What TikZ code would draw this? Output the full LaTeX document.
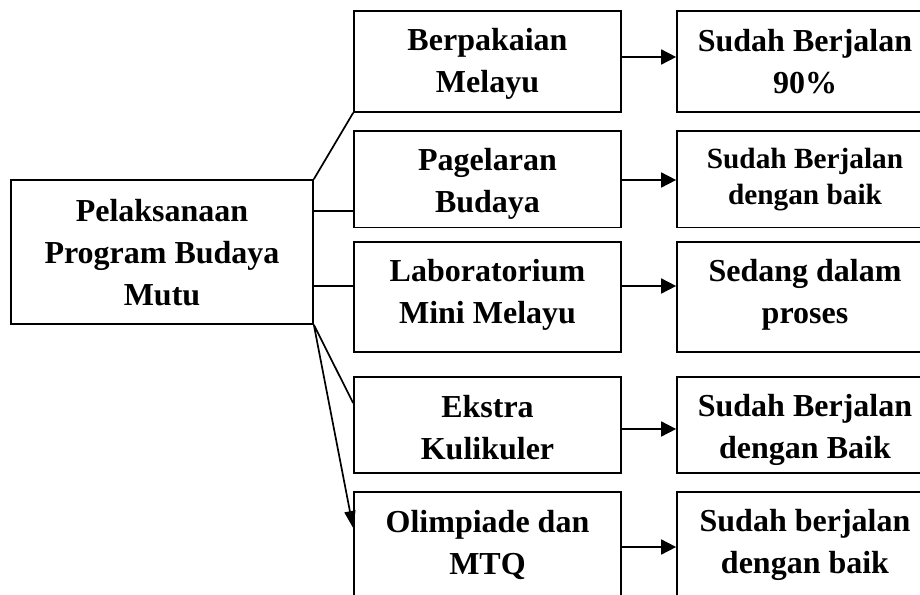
\documentclass[tikz,border=0pt]{standalone}
\usepackage{fontspec}
\setmainfont{Liberation Serif}
\usetikzlibrary{arrows.meta}
\begin{document}
\begin{tikzpicture}[x=1pt,y=-1pt,
  box/.style={draw, line width=1.7pt, rectangle, inner sep=0pt},
  mid/.style={box, minimum width=267pt},
  res/.style={box, minimum width=256pt},
  txt/.style={align=center, inner sep=0pt, anchor=base,
    font=\fontsize{32}{42}\selectfont\bfseries},
  small/.style={font=\fontsize{29.3}{36.5}\selectfont\bfseries},
  conn/.style={line width=1.7pt},
  arr/.style={line width=1.7pt, -{Triangle[length=15pt,width=15pt]}}
]
\useasboundingbox (0,0) rectangle (920,594);
\clip (0,0) rectangle (920,594);
% boxes
\node[box, minimum width=302pt, minimum height=144pt] (main) at (162,252) {};
\node[mid, minimum height=101pt] (b1) at (487.5,61.5) {};
\node[mid, minimum height=96.5pt] (b2) at (487.5,179.3) {};
\node[mid, minimum height=110pt] (b3) at (487.5,296.7) {};
\node[mid, minimum height=96pt] (b4) at (487.5,425.3) {};
\node[mid, minimum height=106pt] (b5) at (487.5,545.3) {};
\node[res, minimum height=101pt] (r1) at (805,61.5) {};
\node[res, minimum height=96.5pt] (r2) at (805,179.3) {};
\node[res, minimum height=110pt] (r3) at (805,296.7) {};
\node[res, minimum height=96pt] (r4) at (805,425.3) {};
\node[res, minimum height=106pt] (r5) at (805,545.3) {};
% texts (anchored at last baseline)
\node[txt] (tm) at (162,305) {Pelaksanaan\\Program Budaya\\Mutu};
\node[txt] (t1) at (487.5,92.7) {Berpakaian\\Melayu};
\node[txt] (t2) at (487.5,212) {Pagelaran\\Budaya};
\node[txt] (t3) at (487.5,323.3) {Laboratorium\\Mini Melayu};
\node[txt] (t4) at (487.5,459.5) {Ekstra\\Kulikuler};
\node[txt] (t5) at (487.5,574.5) {Olimpiade dan\\MTQ};
\node[txt] (s1) at (805,93) {Sudah Berjalan\\90\%};
\node[txt, small] (s2) at (805,204.5) {Sudah Berjalan\\dengan baik};
\node[txt] (s3) at (805,323.3) {Sedang dalam\\proses};
\node[txt] (s4) at (805,458.5) {Sudah Berjalan\\dengan Baik};
\node[txt] (s5) at (805,573.5) {Sudah berjalan\\dengan baik};
% connectors from main
\draw[conn] (main.north east) -- (b1.south west);
\draw[conn] ([yshift=-31.7pt]b2.west) -- ([yshift=-31.7pt]b2.west -| main.east);
\draw[conn] ([yshift=10.7pt]b3.west) -- ([yshift=10.7pt]b3.west -| main.east);
\draw[conn] (main.south east) -- ([yshift=22.3pt]b4.west);
\draw[line width=1.7pt, -{Triangle[length=17pt,width=11pt]}] (main.south east) -- ([yshift=17.3pt]b5.west);
% arrows to results
\draw[arr] ([yshift=4.5pt]b1.east) -- ([yshift=4.5pt]b1.east -| r1.west);
\draw[arr] ([yshift=-0.7pt]b2.east) -- ([yshift=-0.7pt]b2.east -| r2.west);
\draw[arr] ([yshift=10.7pt]b3.east) -- ([yshift=10.7pt]b3.east -| r3.west);
\draw[arr] ([yshift=-3.7pt]b4.east) -- ([yshift=-3.7pt]b4.east -| r4.west);
\draw[arr] ([yshift=-1.7pt]b5.east) -- ([yshift=-1.7pt]b5.east -| r5.west);
\end{tikzpicture}
\end{document}
